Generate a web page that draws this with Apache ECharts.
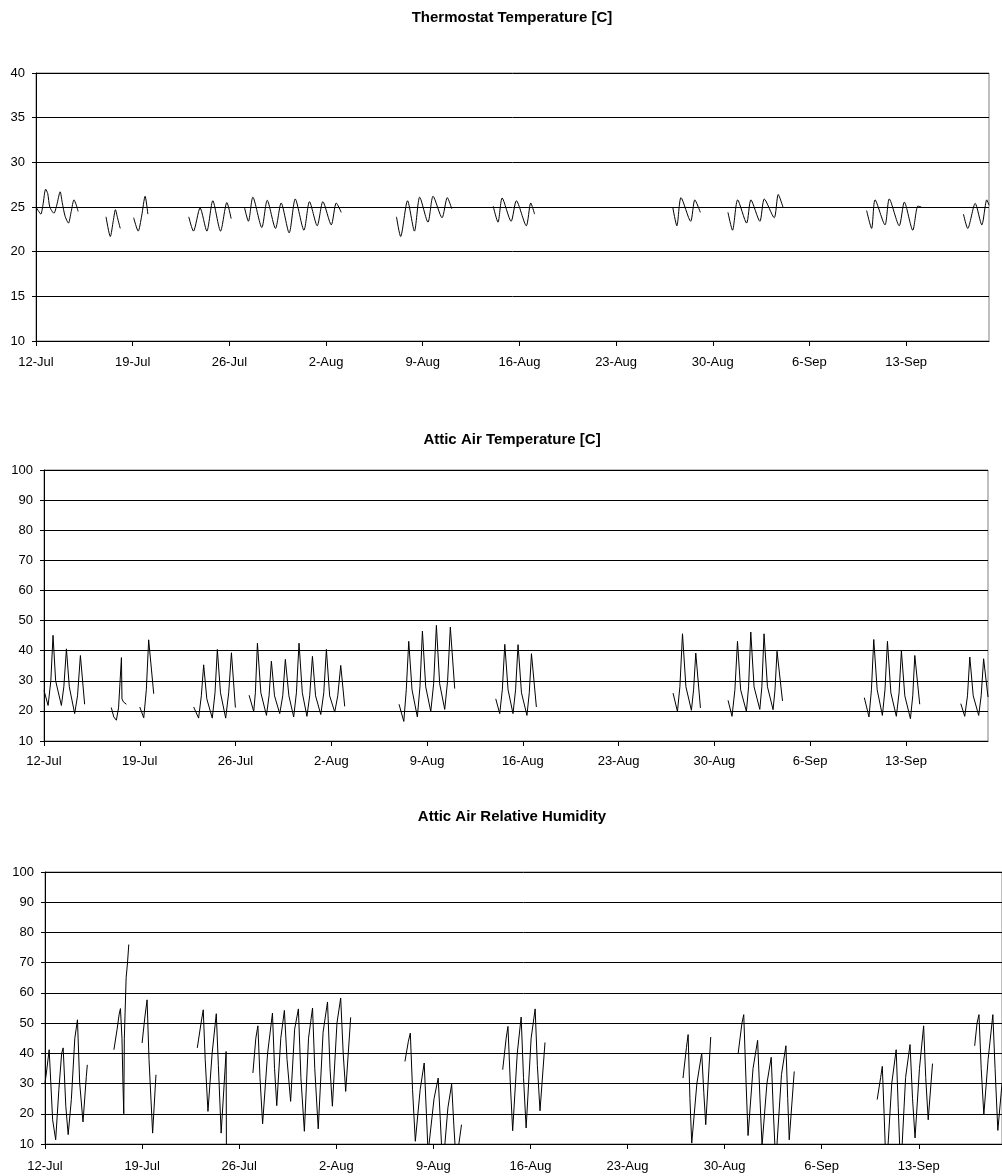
<!DOCTYPE html>
<html>
<head>
<meta charset="utf-8">
<script src="https://cdn.jsdelivr.net/npm/echarts@6/dist/echarts.min.js"></script>
<style>
html,body{margin:0;padding:0;background:#fff;}
#chart{width:1002px;height:1176px;}
</style>
</head>
<body>
<div id="chart"></div>
<script>
// x values are days after 12-Jul 00:00
const xTickValues = [0, 7, 14, 21, 28, 35, 42, 49, 56, 63];
const xTickLabels = ['12-Jul', '19-Jul', '26-Jul', '2-Aug', '9-Aug', '16-Aug', '23-Aug', '30-Aug', '6-Sep', '13-Sep'];

const titles = ['Thermostat Temperature [C]', 'Attic Air Temperature [C]', 'Attic Air Relative Humidity'];

// Thermostat temperature [C], one array per recorded segment
const thermostatSegments = [
  [[0,25.0],[0.2,24.5],[0.35,24.2],[0.5,25.2],[0.7,27.0],[0.85,26.5],[1.0,25.0],[1.3,24.3],[1.5,25.2],[1.75,26.7],[1.9,25.5],[2.1,24.0],[2.35,23.2],[2.55,24.5],[2.75,25.8],[2.9,25.3],[3.05,24.5]],
  [[5.07,23.9],[5.38,21.7],[5.6,23.5],[5.75,24.7],[5.9,23.8],[6.1,22.6]],
  [[7.07,23.8],[7.4,22.3],[7.65,24.0],[7.9,26.2],[8.1,24.2]],
  [[11.06,23.9],[11.4,22.3],[11.88,24.9],[12.37,22.3],[12.8,25.7],[13.36,22.3],[13.82,25.5],[14.13,23.7]],
  [[15.1,24.9],[15.38,23.4],[15.7,26.1],[16.35,22.7],[16.74,25.75],[17.34,22.6],[17.75,25.45],[18.33,22.1],[18.77,25.9],[19.4,22.4],[19.8,25.6],[20.36,22.9],[20.77,25.6],[21.38,23.0],[21.74,25.45],[22.1,24.4]],
  [[26.1,23.9],[26.4,21.7],[26.9,25.7],[27.4,22.3],[27.78,26.1],[28.38,23.3],[28.75,26.2],[29.4,23.8],[29.78,26.05],[30.1,24.8]],
  [[33.1,25.1],[33.45,23.3],[33.75,26.0],[34.4,23.4],[34.78,25.7],[35.5,22.9],[35.82,25.45],[36.1,24.2]],
  [[46.1,25.0],[46.4,22.9],[46.7,26.05],[47.4,23.4],[47.7,25.8],[48.1,24.4]],
  [[50.1,24.4],[50.43,22.4],[50.8,25.8],[51.45,23.2],[51.76,25.8],[52.41,23.4],[52.73,25.9],[53.45,23.8],[53.74,26.4],[54.1,24.9]],
  [[60.14,24.6],[60.5,22.6],[60.75,25.8],[61.47,23.0],[61.78,25.9],[62.5,22.9],[62.87,25.55],[63.48,22.4],[63.85,25.1],[64.1,25.0]],
  [[67.15,24.2],[67.46,22.6],[68.0,25.4],[68.48,23.0],[68.84,25.8],[69.0,25.2]]
];

// Attic air temperature [C]
const atticTempSegments = [
  [[0,26.8],[0.3,21.8],[0.5,30],[0.66,45.1],[0.85,30],[1.27,21.8],[1.45,28],[1.64,40.6],[1.85,28],[2.24,19.1],[2.45,25],[2.66,38.4],[2.97,22.2]],
  [[4.92,21.1],[5.1,18.0],[5.29,16.9],[5.45,21],[5.66,37.7],[5.7,24.0],[5.8,23.0],[6.02,22.2]],
  [[7.0,21.3],[7.29,17.7],[7.48,27],[7.65,43.6],[8.02,25.7]],
  [[10.94,21.3],[11.3,17.6],[11.5,25],[11.67,35.3],[11.9,24],[12.3,17.6],[12.5,26],[12.67,40.4],[12.9,26],[13.28,17.6],[13.5,26],[13.7,39.3],[13.99,21.1]],
  [[14.99,25.2],[15.33,19.8],[15.45,26],[15.6,42.5],[15.85,26],[16.26,18.5],[16.45,25],[16.62,36.5],[16.85,25],[17.23,19.1],[17.45,25],[17.64,37.1],[17.9,25],[18.25,18.0],[18.45,26],[18.64,42.5],[18.88,26],[19.22,18.2],[19.42,25],[19.62,38.1],[19.85,25],[20.23,18.8],[20.45,26],[20.64,40.4],[20.88,25],[21.25,19.6],[21.47,25],[21.69,35.1],[21.98,21.5]],
  [[25.95,22.2],[26.3,16.5],[26.48,27],[26.66,43.1],[26.9,27],[27.29,18.0],[27.48,28],[27.66,46.5],[27.9,28],[28.27,19.8],[28.48,29],[28.68,48.4],[28.92,29],[29.29,20.5],[29.5,30],[29.7,47.8],[30.02,27.4]],
  [[33.02,24.0],[33.31,19.1],[33.5,27],[33.68,42.1],[33.92,27],[34.28,19.1],[34.47,27],[34.65,42.0],[34.9,26],[35.3,18.5],[35.47,26],[35.63,39.0],[35.99,21.3]],
  [[45.98,25.9],[46.3,19.8],[46.48,28],[46.67,45.6],[46.92,28],[47.32,20.2],[47.48,27],[47.64,39.2],[47.98,21.0]],
  [[50.0,23.5],[50.29,18.2],[50.5,27],[50.69,43.1],[50.92,27],[51.34,19.8],[51.5,28],[51.66,46.2],[51.9,28],[52.32,20.5],[52.47,28],[52.63,45.6],[52.88,28],[53.29,20.4],[53.43,27],[53.58,39.8],[53.98,23.3]],
  [[59.96,24.4],[60.3,18.0],[60.48,27],[60.65,43.7],[60.9,27],[61.28,18.5],[61.47,27],[61.65,43.1],[61.9,26],[62.3,18.2],[62.5,26],[62.67,39.9],[62.92,25],[63.33,17.4],[63.5,25],[63.65,38.4],[64.01,22.2]],
  [[67.01,22.4],[67.3,18.2],[67.5,25],[67.67,37.9],[67.92,25],[68.32,18.5],[68.5,25],[68.68,37.3],[69.0,24.6]]
];

// Attic air relative humidity [%]
const atticRHSegments = [
  [[0,30.2],[0.1,33.5],[0.3,41.2],[0.36,41.8],[0.55,18],[0.77,11.4],[1.0,28],[1.2,40],[1.31,41.8],[1.5,22.5],[1.67,13.1],[1.9,24.7],[2.15,45],[2.34,51.1],[2.5,30.2],[2.74,17.3],[2.98,32.4],[3.05,36.2]],
  [[4.97,41.2],[5.2,48],[5.35,53],[5.44,54.8],[5.55,45],[5.62,30],[5.68,20],[5.72,45],[5.85,65],[5.95,70],[6.04,76]],
  [[7.0,43.4],[7.2,52],[7.36,57.7],[7.5,37.9],[7.76,13.6],[8.0,32.9]],
  [[10.98,41.8],[11.25,50],[11.41,54.4],[11.55,38],[11.75,20.8],[12.05,40],[12.35,53.1],[12.5,36],[12.7,13.6],[13.06,40.6],[13.08,8]],
  [[14.99,33.5],[15.2,45],[15.35,49.1],[15.5,32],[15.69,16.7],[16.05,40],[16.4,53.3],[16.55,35],[16.71,22.7],[17.0,45],[17.26,54.2],[17.45,38],[17.71,24.1],[18.0,48],[18.27,54.7],[18.45,32],[18.7,14.2],[19.0,45],[19.29,55],[19.45,35],[19.7,15],[20.05,47],[20.37,57],[20.55,35],[20.72,22.5],[21.05,50],[21.32,58.3],[21.5,40],[21.68,27.4],[22.04,51.9]],
  [[25.95,37.3],[26.2,44],[26.34,46.7],[26.5,28],[26.7,10.9],[27.05,28],[27.34,36.8],[27.5,20],[27.62,7],[27.75,7],[28.05,25],[28.35,31.8],[28.5,18],[28.62,7],[28.78,7],[29.05,22],[29.32,29.8],[29.48,16],[29.6,7],[29.75,7],[29.9,12],[30.03,16.4]],
  [[33.0,34.6],[33.25,45],[33.38,48.9],[33.55,30],[33.72,14.4],[34.05,40],[34.33,52],[34.5,32],[34.69,15.3],[35.05,45],[35.34,54.7],[35.5,36],[35.69,21],[36.05,43.6]],
  [[46.0,31.8],[46.25,42],[46.37,46.2],[46.5,25],[46.63,10.3],[47.0,30],[47.35,40.1],[47.5,27],[47.64,16.4],[48.0,45.4]],
  [[49.98,40.1],[50.25,50],[50.38,52.8],[50.55,30],[50.69,12.8],[51.05,35],[51.38,44.3],[51.55,25],[51.7,9.5],[52.05,30],[52.36,38.7],[52.52,20],[52.65,7],[52.75,8],[53.1,33],[53.42,42.5],[53.55,25],[53.66,11.4],[54.02,34]],
  [[60.0,24.7],[60.25,32],[60.37,35.7],[60.5,20],[60.6,7],[60.75,7],[61.05,30],[61.37,41.2],[61.52,22],[61.64,7],[61.78,8],[62.05,32],[62.37,42.9],[62.55,25],[62.73,12],[63.05,35],[63.35,49.1],[63.5,32],[63.68,18],[63.99,36.6]],
  [[67.03,42.5],[67.2,50],[67.34,52.8],[67.5,35],[67.69,19.7],[68.0,38],[68.34,52.8],[68.5,35],[68.7,14.5],[69.0,30]]
];

const panels = [
  {segs: thermostatSegments, smooth: 0.25, yMin: 10, yMax: 40, yStep: 5, grid: {left: 36, right: 13, top: 73, height: 268}, titleTop: 10, labelMargin: 15},
  {segs: atticTempSegments, smooth: false, yMin: 10, yMax: 100, yStep: 10, grid: {left: 44, right: 14, top: 470, height: 271}, titleTop: 432, labelMargin: 14},
  {segs: atticRHSegments, smooth: false, yMin: 10, yMax: 100, yStep: 10, grid: {left: 45, right: -6, top: 872, height: 272}, titleTop: 809, labelMargin: 16}
];

const font = 'Arial, "Liberation Sans", sans-serif';
const option = {
  animation: false,
  backgroundColor: '#ffffff',
  title: [], grid: [], xAxis: [], yAxis: [], series: []
};

panels.forEach((p, i) => {
  option.title.push({
    text: titles[i], left: 512, top: p.titleTop, textAlign: 'center', padding: 0,
    textStyle: {fontFamily: font, fontSize: 15, fontWeight: 'bold', color: '#000'}
  });
  option.grid.push(Object.assign({show: true, borderColor: '#808080', borderWidth: 1, backgroundColor: 'transparent'}, p.grid));
  option.xAxis.push({
    type: 'value', gridIndex: i, min: 0, max: 69, interval: 7,
    axisLine: {show: true, onZero: false, lineStyle: {color: '#000', width: 1}},
    axisTick: {show: true, length: 5, lineStyle: {color: '#000'}, customValues: xTickValues},
    axisLabel: {
      margin: p.labelMargin, fontFamily: font, fontSize: 13, color: '#000',
      customValues: xTickValues,
      formatter: v => { const k = xTickValues.indexOf(Math.round(v)); return k >= 0 ? xTickLabels[k] : ''; }
    },
    splitLine: {show: false}
  });
  option.yAxis.push({
    type: 'value', gridIndex: i, min: p.yMin, max: p.yMax, interval: p.yStep,
    axisLine: {show: true, lineStyle: {color: '#000', width: 1}},
    axisTick: {show: true, length: 4, lineStyle: {color: '#000'}},
    axisLabel: {margin: 11, fontFamily: font, fontSize: 13, color: '#000'},
    splitLine: {show: true, lineStyle: {color: '#000', width: 1}}
  });
  p.segs.forEach(seg => {
    option.series.push({
      type: 'line', xAxisIndex: i, yAxisIndex: i, data: seg,
      showSymbol: false, symbol: 'none', clip: true, smooth: p.smooth,
      lineStyle: {color: '#000', width: 1}, silent: true
    });
  });
});

const chart = echarts.init(document.getElementById('chart'), null, {renderer: 'canvas'});
chart.setOption(option);
</script>
</body>
</html>
